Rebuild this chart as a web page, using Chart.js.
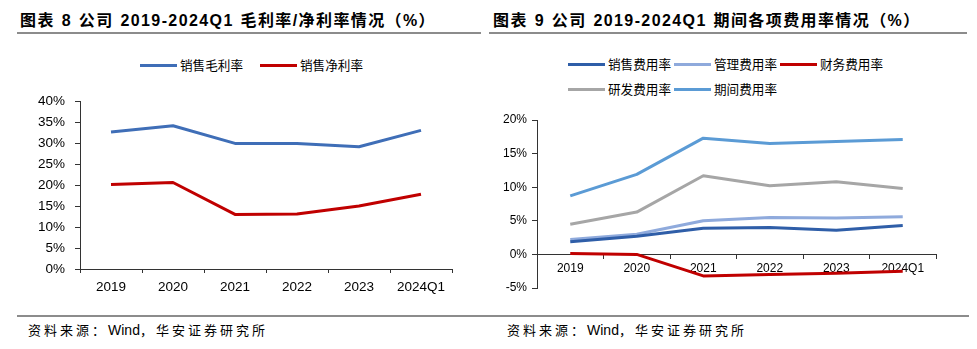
<!DOCTYPE html>
<html>
<head>
<meta charset="utf-8">
<script src="https://cdn.jsdelivr.net/npm/chart.js@4.4.1/dist/chart.umd.min.js"></script>
<style>
  body { margin:0; width:977px; height:349px; position:relative; overflow:hidden; background:#fff;
         font-family:"Liberation Sans","Noto Sans CJK SC",sans-serif; color:#000; }
  .title { position:absolute; top:11px; line-height:20px; font-size:16px; font-weight:bold;
           letter-spacing:1.4px; word-spacing:1px; white-space:nowrap; }
  .rule { position:absolute; background:#8c8c8c; height:2px; }
  .source { position:absolute; top:322px; line-height:17px; font-size:13px; letter-spacing:3px;
            white-space:nowrap; }
  .source .latin { font-size:14px; letter-spacing:0; }
  .chart { position:absolute; top:80px; }
  .legend { position:absolute; display:grid; row-gap:9px; font-family:"Noto Sans CJK SC",sans-serif;
            font-size:12.6px; line-height:16px; }
  .legend .item { display:flex; align-items:center; white-space:nowrap; }
  .legend .swatch { width:37px; height:3px; margin-right:3px; }
</style>
</head>
<body>
<div class="title" style="left:20px">图表 8 公司 2019-2024Q1 毛利率/净利率情况（%）</div>
<div class="title" style="left:493px">图表 9 公司 2019-2024Q1 期间各项费用率情况（%）</div>
<div class="rule" style="left:17px; top:32px; width:464px"></div>
<div class="rule" style="left:489px; top:32px; width:478px"></div>

<div id="margin-legend" class="legend" style="left:140px; top:57px; grid-template-columns:120px 120px"></div>
<div id="expense-legend" class="legend" style="left:568px; top:56px; grid-template-columns:106px 106px 106px"></div>

<canvas id="margin-chart" class="chart" style="left:0" width="490" height="230"></canvas>
<canvas id="expense-chart" class="chart" style="left:490px" width="487" height="230"></canvas>

<div class="rule" style="left:17px; top:315px; width:952px"></div>
<div class="source" style="left:28px">资料来源：<span class="latin">Wind</span>，华安证券研究所</div>
<div class="source" style="left:507px">资料来源：<span class="latin">Wind</span>，华安证券研究所</div>

<script>
// categories
const YEARS = ["2019", "2020", "2021", "2022", "2023", "2024Q1"];

// left chart: margins (%)
const GROSS_MARGIN = [32.6, 34.1, 29.9, 29.9, 29.1, 33.0];
const NET_MARGIN   = [20.1, 20.6, 13.0, 13.1, 15.0, 17.8];

// right chart: expense ratios (%)
const SELLING_RATE = [1.9, 2.7, 3.9, 4.0, 3.6, 4.3];
const ADMIN_RATE   = [2.2, 3.0, 5.0, 5.5, 5.4, 5.6];
const FINANCE_RATE = [0.15, 0.0, -3.2, -3.0, -2.8, -2.5];
const RD_RATE      = [4.5, 6.3, 11.7, 10.2, 10.8, 9.8];
const PERIOD_RATE  = [8.7, 11.9, 17.3, 16.5, 16.8, 17.1];

const AXIS_COLOR = "#333";

function buildLegend(id, datasets) {
  const el = document.getElementById(id);
  el.innerHTML = datasets.map(d =>
    `<div class="item"><span class="swatch" style="background:${d.borderColor}"></span>${d.label}</div>`
  ).join("");
}

function lineChart(id, datasets, opts) {
  return new Chart(document.getElementById(id), {
    type: "line",
    data: { labels: YEARS, datasets },
    options: {
      responsive: false,
      animation: false,
      layout: { padding: opts.padding },
      plugins: { legend: { display: false }, tooltip: { enabled: false } },
      elements: {
        line: { borderWidth: 3, tension: 0, borderJoinStyle: "round" },
        point: { radius: 0, hoverRadius: 0 },
      },
      scales: {
        x: {
          offset: true,
          position: opts.xPosition,
          grid: { offset: true, drawOnChartArea: false, tickLength: 4, color: AXIS_COLOR },
          border: { color: AXIS_COLOR },
          ticks: { color: "#000", padding: opts.xPad, maxRotation: 0,
                   font: { family: "Liberation Sans", size: opts.fontSize } },
          afterFit: s => { s.height = 30; },
        },
        y: {
          min: opts.min, max: opts.max,
          grid: { drawOnChartArea: false, tickLength: 5, color: AXIS_COLOR },
          border: { color: AXIS_COLOR },
          ticks: { stepSize: 5, color: "#000", padding: opts.yPad,
                   font: { family: "Liberation Sans", size: opts.fontSize },
                   callback: v => v + "%" },
          afterFit: s => { s.width = opts.yWidth; },
        },
      },
    },
  });
}

const marginSets = [
  { label: "销售毛利率", data: GROSS_MARGIN, borderColor: "#3f6eb7" },
  { label: "销售净利率", data: NET_MARGIN, borderColor: "#c00000" },
];
buildLegend("margin-legend", marginSets);
lineChart("margin-chart", marginSets, {
  padding: { left: 0, right: 38, top: 21, bottom: 11 },
  min: 0, max: 40, yWidth: 80, yPad: 10, xPad: 6, fontSize: 13.5,
  xPosition: "bottom",
});

const expenseSets = [
  { label: "销售费用率", data: SELLING_RATE, borderColor: "#2f5ea8" },
  { label: "管理费用率", data: ADMIN_RATE, borderColor: "#8faadc" },
  { label: "财务费用率", data: FINANCE_RATE, borderColor: "#c00000" },
  { label: "研发费用率", data: RD_RATE, borderColor: "#a6a6a6" },
  { label: "期间费用率", data: PERIOD_RATE, borderColor: "#5b9bd5" },
];
buildLegend("expense-legend", expenseSets);
lineChart("expense-chart", expenseSets, {
  padding: { left: 0, right: 41, top: 40, bottom: 22 },
  min: -5, max: 20, yWidth: 47, yPad: 5, xPad: 3, fontSize: 12,
  xPosition: { y: 0 },
});
</script>
</body>
</html>
